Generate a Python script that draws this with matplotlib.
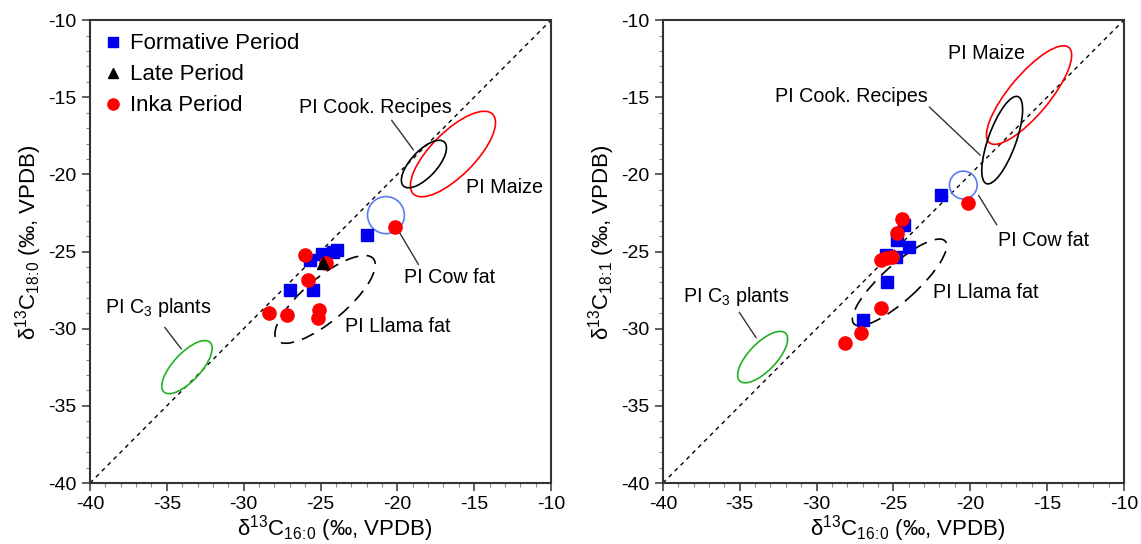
import matplotlib.pyplot as plt
from matplotlib.patches import Ellipse

plt.rcParams['font.family'] = ['Liberation Sans', 'DejaVu Sans']
plt.rcParams['mathtext.fontset'] = 'custom'
plt.rcParams['mathtext.rm'] = 'Liberation Sans'
plt.rcParams['mathtext.it'] = 'Liberation Sans:italic'
plt.rcParams['axes.unicode_minus'] = False

# Left panel data (C16:0 vs C18:0)
form_x1 = [-21.98, -25.69, -24.9, -24.19, -23.93, -26.99, -25.49]
form_y1 = [-23.93, -25.55, -25.17, -25.04, -24.9, -27.5, -27.5]
late_x1 = [-24.84]
late_y1 = [-25.75]
inka_x1 = [-20.16, -26.01, -24.64, -25.82, -28.35, -27.18, -25.1, -25.16]
inka_y1 = [-23.4, -25.23, -25.75, -26.85, -28.99, -29.12, -28.8, -29.3]

# Right panel data (C16:0 vs C18:1)
form_x2 = [-21.88, -24.29, -24.74, -23.96, -25.45, -24.8, -25.39, -26.95]
form_y2 = [-21.34, -23.29, -24.26, -24.71, -25.23, -25.36, -26.98, -29.44]
inka_x2 = [-20.13, -24.42, -24.74, -25.06, -25.78, -25.45, -25.78, -27.08, -28.18]
inka_y2 = [-21.86, -22.9, -23.8, -25.36, -25.55, -25.42, -28.66, -30.29, -30.93]

# reference ranges: (label, centre x, centre y, width, height, angle, colour, dashed)
ranges1 = [
    ('maize', -16.38, -18.68, 7.3, 2.85, 45, 'red', False),
    ('cook', -18.27, -19.33, 3.9, 1.7, 47, 'black', False),
    ('cow', -20.74, -22.64, 2.4, 2.4, 0, '#5b7cf0', False),
    ('llama', -24.7, -28.1, 8.2, 2.8, 40, 'black', True),
    ('c3', -33.69, -32.49, 4.4, 1.8, 47, '#22b022', False),
]
ranges2 = [
    ('maize', -16.17, -14.86, 8.05, 2.6, 50, 'red', False),
    ('cook', -17.92, -17.78, 6.0, 1.8, 70, 'black', False),
    ('cow', -20.45, -20.69, 1.8, 1.8, 0, '#5b7cf0', False),
    ('llama', -24.6, -27.0, 8.0, 2.3, 42, 'black', True),
    ('c3', -33.51, -31.84, 4.3, 1.8, 46, '#22b022', False),
]

# labels: (text, x, y)
labels1 = [
    ('PI Cook. Recipes', -21.46, -15.64),
    ('PI Maize', -13.0, -20.82),
    ('PI Cow fat', -16.58, -26.66),
    ('PI Llama fat', -19.96, -29.83),
    ('PI C$_3$ plants', -35.58, -28.6),
]
labels2 = [
    ('PI Maize', -18.96, -12.14),
    ('PI Cook. Recipes', -27.73, -14.93),
    ('PI Cow fat', -15.2, -24.26),
    ('PI Llama fat', -18.96, -27.63),
    ('PI C$_3$ plants', -35.26, -27.89),
]
# leader lines: (x0, y0, x1, y1)
leaders1 = [(-20.48, -16.35, -18.85, -18.55),
            (-20.03, -23.48, -18.53, -26.0),
            (-35.25, -29.77, -33.95, -31.45)]
leaders2 = [(-22.79, -15.51, -19.22, -18.88),
            (-19.55, -21.21, -18.18, -23.42),
            (-35.13, -28.79, -33.83, -30.74)]

ticks = [-40, -35, -30, -25, -20, -15, -10]

fig = plt.figure(figsize=(11.41, 5.44), dpi=100)
ax1 = fig.add_axes([0.0789, 0.1121, 0.404, 0.851])
ax2 = fig.add_axes([0.581, 0.1121, 0.404, 0.851])


def style_axes(ax, ylabel):
    ax.set_xlim(-40, -10)
    ax.set_ylim(-40, -10)
    ax.set_xticks(ticks)
    ax.set_yticks(ticks)
    ax.set_xticks(range(-40, -9), minor=True)
    ax.set_yticks(range(-40, -9), minor=True)
    ax.tick_params(which='major', length=6, width=1.2, labelsize=14, color='#444444')
    ax.tick_params(which='minor', length=3, width=0.8, color='#888888')
    for s in ax.spines.values():
        s.set_linewidth(1.5)
        s.set_color('#333333')
    ax.plot([-40, -10], [-40, -10], ls=(0, (3, 3)), color='black', lw=1, zorder=1)
    ax.set_xlabel(r'δ$^{13}$C$_{16\!:\!0}$ (‰, VPDB)', fontsize=16)
    ax.set_ylabel(ylabel, fontsize=16)
    ax.xaxis.set_label_coords(0.53, -0.064)
    ax.yaxis.set_label_coords(-0.099, 0.52)


def draw_ranges(ax, ranges):
    for name, cx, cy, w, h, ang, col, dashed in ranges:
        e = Ellipse((cx, cy), w, h, angle=ang, fill=False, edgecolor=col, lw=1.2,
                    ls=(0, (8, 5)) if dashed else '-', zorder=2)
        ax.add_patch(e)


def draw_labels(ax, labels, leaders):
    for x0, y0, x1, y1 in leaders:
        ax.annotate('', xy=(x1, y1), xytext=(x0, y0),
                    arrowprops=dict(arrowstyle='-', color='#333333', lw=1), zorder=2)
    for t, x, y in labels:
        ax.text(x, y, t, fontsize=14.2, ha='center', va='center')


style_axes(ax1, r'δ$^{13}$C$_{18\!:\!0}$ (‰, VPDB)')
draw_ranges(ax1, ranges1)
draw_labels(ax1, labels1, leaders1)
ax1.plot(form_x1, form_y1, 's', color='#0000ee', ms=8.5, ls='none', zorder=3,
         label='Formative Period')
ax1.plot(late_x1, late_y1, '^', color='black', ms=8, ls='none', zorder=4,
         label='Late Period')
ax1.plot(inka_x1, inka_y1, 'o', color='#ff0000', ms=9.5, ls='none', zorder=3,
         label='Inka Period')
ax1.legend(loc='upper left', frameon=False, fontsize=16, handletextpad=0.3,
           labelspacing=0.45, borderaxespad=0.2, markerscale=0.85, handlelength=0.9)

style_axes(ax2, r'δ$^{13}$C$_{18\!:\!1}$ (‰, VPDB)')
draw_ranges(ax2, ranges2)
draw_labels(ax2, labels2, leaders2)
ax2.plot(form_x2, form_y2, 's', color='#0000ee', ms=8.5, ls='none', zorder=3)
ax2.plot(inka_x2, inka_y2, 'o', color='#ff0000', ms=9.5, ls='none', zorder=3)

fig.savefig('out.png', dpi=100)
